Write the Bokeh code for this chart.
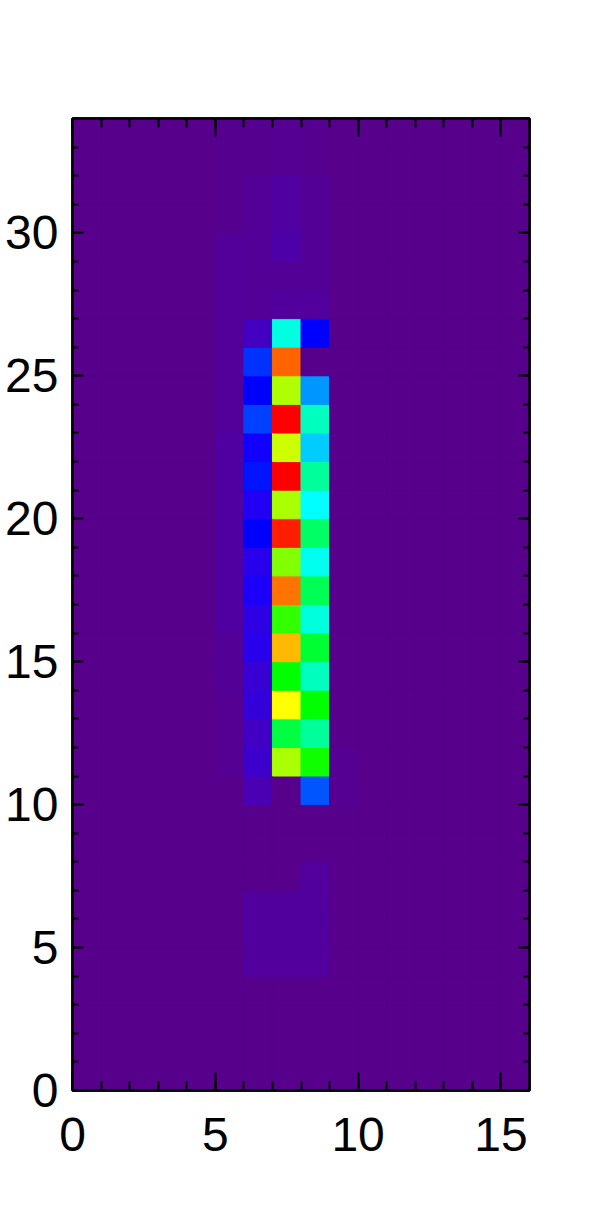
import numpy as np
from bokeh.plotting import figure
from bokeh.models import (LinearAxis, Range1d, SingleIntervalTicker,
                          ColumnDataSource, CustomLabelingPolicy)
from bokeh.transform import linear_cmap
from bokeh.embed import file_html
from bokeh.resources import INLINE

# ---- data: grid of 16 columns (x 0..15) x 34 rows (y 0..33) ----
n_cols = 16
n_rows = 34
# values per column listed from row 0 (bottom) to row 33 (top); other columns are 0
col5 = [0, 0, 0, 0, 0, 0, 0, 0, 0, 0,
        0, 0.008, 0.008, 0.008, 0.012, 0.012, 0.025, 0.025, 0.025, 0.025,
        0.025, 0.025, 0.025, 0.018, 0.018, 0.018, 0.018, 0.018, 0.018, 0.018,
        0.006, 0.006, 0.006, 0.006]
col6 = [0, 0, 0, 0, 0.02, 0.02, 0.02, 0, 0, 0,
        0.045, 0.072, 0.065, 0.087, 0.08, 0.11, 0.10, 0.137, 0.11, 0.2,
        0.128, 0.215, 0.163, 0.25, 0.2, 0.24, 0.06, 0.015, 0.015, 0.015,
        0.015, 0.015, 0.005, 0.005]
col7 = [0, 0, 0, 0, 0.02, 0.02, 0.02, 0, 0, 0,
        0, 0.733, 0.547, 0.8, 0.6, 0.853, 0.64, 0.907, 0.7, 0.973,
        0.733, 1.0, 0.76, 1.0, 0.738, 0.92, 0.424, 0.02, 0.015, 0.032,
        0.026, 0.026, 0.01, 0.01]
col8 = [0, 0, 0, 0, 0.02, 0.02, 0.02, 0.02, 0, 0,
        0.267, 0.613, 0.48, 0.6, 0.453, 0.56, 0.427, 0.533, 0.413, 0.52,
        0.4, 0.48, 0.36, 0.45, 0.32, 0, 0.2, 0.023, 0.015, 0.015,
        0.015, 0.015, 0.005, 0.005]
col9 = [0, 0, 0, 0, 0, 0, 0, 0, 0, 0,
        0.008, 0.008, 0, 0, 0, 0, 0, 0, 0, 0,
        0, 0, 0, 0, 0, 0, 0, 0, 0, 0,
        0, 0, 0, 0]
columns = {5: col5, 6: col6, 7: col7, 8: col8, 9: col9}

x_ticks_major = [0, 5, 10, 15]
y_ticks_major = [0, 5, 10, 15, 20, 25, 30]

# ---- colour table (rainbow, purple -> red) ----
anchors = [(0.0, (87, 0, 139)), (0.05, (72, 0, 185)), (0.1, (45, 0, 230)),
           (0.15, (22, 0, 255)), (0.2, (0, 0, 255)), (0.4, (0, 255, 255)),
           (0.6, (0, 255, 0)), (0.8, (255, 255, 0)), (1.0, (255, 0, 0))]
pos = np.array([a[0] for a in anchors])
rgb = np.array([a[1] for a in anchors], dtype=float)
t = np.linspace(0, 1, 256)
palette = []
for v in t:
    r = np.interp(v, pos, rgb[:, 0])
    g = np.interp(v, pos, rgb[:, 1])
    b = np.interp(v, pos, rgb[:, 2])
    palette.append("#%02x%02x%02x" % (int(round(r)), int(round(g)), int(round(b))))

xs, ys, vs = [], [], []
for cx in range(n_cols):
    vals = columns.get(cx, [0] * n_rows)
    for ry in range(n_rows):
        xs.append(cx + 0.5)
        ys.append(ry + 0.5)
        vs.append(vals[ry])
src = ColumnDataSource(dict(x=xs, y=ys, v=vs))

p = figure(frame_width=457, frame_height=972,
           x_range=Range1d(0, 16), y_range=Range1d(0, 34),
           output_backend="svg", toolbar_location=None,
           min_border_left=72, min_border_top=118,
           min_border_right=40, min_border_bottom=90)
p.background_fill_color = palette[0]
p.border_fill_color = "white"
p.grid.visible = False
p.outline_line_color = "black"
p.outline_line_width = 2.5

cmap = linear_cmap("v", palette, 0, 1)
p.rect(x="x", y="y", width=1, height=1, source=src,
       fill_color=cmap, line_color=cmap, line_width=1)

FONT = "Liberation Sans"


def style(ax, major, minor, labels, standoff=0):
    ax.ticker = SingleIntervalTicker(interval=5, num_minor_ticks=5)
    ax.major_tick_in = major
    ax.major_tick_out = 0
    ax.minor_tick_in = minor
    ax.minor_tick_out = 0
    ax.major_tick_line_width = 2
    ax.minor_tick_line_width = 2
    ax.major_tick_line_color = "black"
    ax.minor_tick_line_color = "black"
    ax.axis_line_width = 2.5
    ax.axis_line_color = "black"
    if labels:
        ax.major_label_text_font = FONT
        ax.major_label_text_font_size = "48px"
        ax.major_label_text_color = "black"
        ax.major_label_standoff = standoff
    else:
        ax.major_label_policy = CustomLabelingPolicy(
            code="for (const i of [...indices]) indices.unset(i); return indices")
        ax.major_label_standoff = 0


style(p.xaxis[0], 18, 9, True, 27)
style(p.yaxis[0], 11, 6, True, 14)
top = LinearAxis()
right = LinearAxis()
style(top, 18, 9, False)
style(right, 11, 6, False)
p.add_layout(top, "above")
p.add_layout(right, "right")

open("out.html", "w").write(file_html(p, INLINE))
